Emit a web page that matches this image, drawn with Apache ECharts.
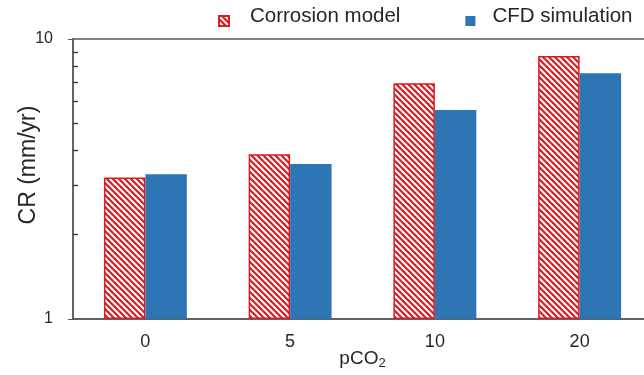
<!DOCTYPE html>
<html>
<head>
<meta charset="utf-8">
<script src="https://cdn.jsdelivr.net/npm/echarts@6/dist/echarts.min.js"></script>
<style>
  html, body { margin: 0; padding: 0; background: #fff; }
  #chart { width: 644px; height: 375px; }
</style>
</head>
<body>
<div id="chart"></div>
<script>
// pCO2 levels and corrosion rates (mm/yr)
const categories = ['0', '5', '10', '20'];
const corrosionModel = [3.20, 3.88, 6.95, 8.70];
const cfdSimulation = [3.29, 3.58, 5.58, 7.54];
const majorTicks = [1, 10];
const minorTicks = [2, 3, 4, 5, 6, 7, 8, 9];

const RED = '#dc1a20';
const BLUE = '#2e75b6';
const AXIS = '#595959';
const TEXT = '#262626';
const FONT = '"Liberation Sans", Arial, sans-serif';

// diagonal hatch tile for the corrosion model bars
function hatchTile() {
  const p = 6;
  const c = document.createElement('canvas');
  c.width = p; c.height = p;
  const g = c.getContext('2d');
  g.fillStyle = '#fff';
  g.fillRect(0, 0, p, p);
  g.strokeStyle = RED;
  g.lineWidth = 2.2;
  for (let k = -1; k <= 1; k++) {
    g.beginPath();
    g.moveTo(-1, k * p - 1);
    g.lineTo(p + 1, k * p + p + 1);
    g.stroke();
  }
  return c;
}

// legend square sitting a little below the text's middle
const LEGEND_ICON = 'path://M0,0L0,0ZM0,9L10,9L10,19L0,19Z';

const chart = echarts.init(document.getElementById('chart'), null, { renderer: 'canvas' });

chart.setOption({
  animation: false,
  textStyle: { fontFamily: FONT },
  legend: {
    left: 218,
    top: 6,
    padding: 0,
    icon: LEGEND_ICON,
    itemWidth: 10,
    itemHeight: 19,
    itemGap: 65,
    textStyle: { fontSize: 20.5, color: TEXT, fontFamily: FONT },
    data: [
      { name: 'Corrosion model', textStyle: { padding: [0, 0, 0, 16] } },
      { name: 'CFD simulation', textStyle: { padding: [0, 0, 0, 12] } }
    ]
  },
  grid: {
    left: 73,
    top: 39,
    bottom: 56,
    right: -8,
    show: true,
    borderColor: AXIS,
    borderWidth: 1.5,
    outerBoundsMode: 'none'
  },
  xAxis: {
    type: 'category',
    data: categories,
    axisLine: { lineStyle: { color: AXIS, width: 1.5 } },
    axisTick: { show: false },
    axisLabel: { fontSize: 18, color: TEXT, margin: 14, fontFamily: FONT },
    name: '{a|pCO}{b|2}',
    nameLocation: 'middle',
    nameGap: 28,
    nameMoveOverlap: false,
    nameTextStyle: {
      rich: {
        a: { fontSize: 19, color: TEXT, fontFamily: FONT },
        b: { fontSize: 13, color: TEXT, fontFamily: FONT, padding: [10, 0, 0, 0] }
      }
    }
  },
  yAxis: [
    {
      type: 'log',
      logBase: 10,
      min: 1,
      max: 10,
      position: 'left',
      axisLine: { show: true, lineStyle: { color: AXIS, width: 1.5 } },
      axisTick: { show: true, inside: false, length: 5, lineStyle: { color: AXIS }, customValues: majorTicks },
      axisLabel: { fontSize: 16, color: TEXT, margin: 20, fontFamily: FONT, customValues: majorTicks },
      splitLine: { show: false },
      name: 'CR (mm/yr)',
      nameLocation: 'middle',
      nameGap: 33,
      nameMoveOverlap: false,
      nameTextStyle: { fontSize: 23, color: TEXT, fontFamily: FONT, padding: [0, 0, 0, 28] }
    },
    {
      // decade position (0..1) of the minor ticks between 1 and 10
      type: 'value',
      min: 0,
      max: 1,
      position: 'left',
      offset: 0,
      axisLine: { show: false },
      axisTick: {
        show: true, inside: true, length: 5,
        lineStyle: { color: '#333', width: 1.3 },
        customValues: minorTicks.map(v => Math.log10(v))
      },
      axisLabel: { show: false },
      splitLine: { show: false }
    }
  ],
  series: [
    {
      name: 'Corrosion model',
      type: 'bar',
      yAxisIndex: 0,
      data: corrosionModel,
      barGap: '0%',
      barCategoryGap: '42.7%',
      itemStyle: {
        color: { image: hatchTile(), repeat: 'repeat' },
        borderColor: RED,
        borderWidth: 1.5
      }
    },
    {
      name: 'CFD simulation',
      type: 'bar',
      yAxisIndex: 0,
      data: cfdSimulation,
      barGap: '0%',
      barCategoryGap: '42.7%',
      itemStyle: { color: BLUE }
    }
  ]
});
</script>
</body>
</html>
